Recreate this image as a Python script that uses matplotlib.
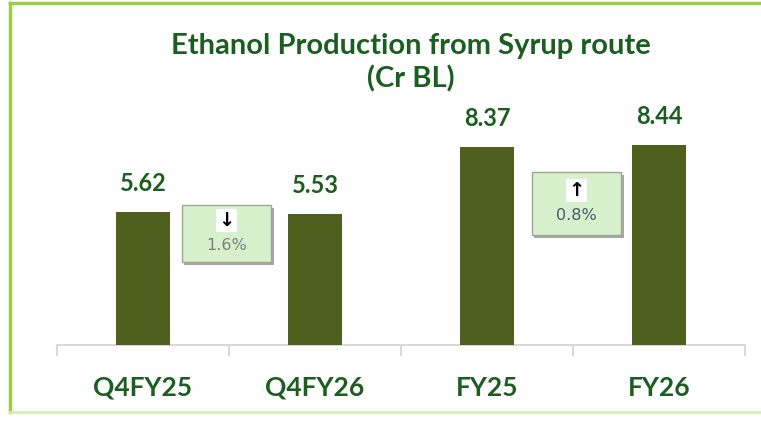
import matplotlib.pyplot as plt
from matplotlib.patches import Rectangle
from matplotlib.lines import Line2D

# ===== 데이터 =====
categories = ["Q4FY25", "Q4FY26", "FY25", "FY26"]
values = [5.62, 5.53, 8.37, 8.44]
changes = ["1.6%", "0.8%"]
arrows = ["↓", "↑"]

title = "Ethanol Production from Syrup route\n(Cr BL)"

bar_col = "#4f5f1d"
txt_green = "#1b5e20"
frame_col = "#9ccc48"

W, H = 761, 422
fig = plt.figure(figsize=(W/100, H/100), dpi=100)

# 바깥 테두리 (왼쪽/위/아래)
fig.add_artist(Line2D([10/W, 10/W], [1-3/H, 1-412/H], color=frame_col, lw=2.5, transform=fig.transFigure))
fig.add_artist(Line2D([10/W, 1], [1-3/H, 1-3/H], color=frame_col, lw=2.5, transform=fig.transFigure))
fig.add_artist(Line2D([10/W, 1], [1-412/H, 1-412/H], color="#dbe8b8", lw=2, transform=fig.transFigure))

ax_bottom = 345
ax_top = 80
ax = fig.add_axes([57/W, 1-ax_bottom/H, 688/W, (ax_bottom-ax_top)/H])
ppu = 23.7  # 단위당 픽셀
ax.set_ylim(0, (ax_bottom-ax_top)/ppu)
ax.set_xlim(-0.5, len(categories)-0.5)

x = list(range(len(categories)))
ax.bar(x, values, width=0.314, color=bar_col, zorder=3)
for xi, v in zip(x, values):
    ax.text(xi, v + 0.7, f"{v:.2f}", ha="center", va="bottom", fontsize=17,
            fontweight="bold", color=txt_green, family="Lato")

for s in ["top", "right", "left"]:
    ax.spines[s].set_visible(False)
ax.spines["bottom"].set_color("#d9d9d9")
ax.spines["bottom"].set_linewidth(1.5)
ax.set_yticks([])
ax.set_xticks([i - 0.5 for i in range(len(categories)+1)])
ax.set_xticklabels([])
ax.tick_params(axis="x", length=8, width=1.5, color="#d9d9d9")
for xi, c in zip(x, categories):
    ax.text(xi, -1.8, c, ha="center", va="center", fontsize=19, fontweight="bold",
            color=txt_green, family="Lato", transform=ax.transData, clip_on=False)

# 변화율 박스
boxes = [(0.485, 3.50, 5.91), (2.52, 4.64, 7.30)]
pct_cols = ["#808080", "#4a5a6a"]
for (cx, y0, y1), ch, ar, pc in zip(boxes, changes, arrows, pct_cols):
    bw = 0.52
    sh = Rectangle((cx - bw/2 + 0.015, y0 - 0.12), bw, y1 - y0, facecolor="#a6a6a6",
                   edgecolor="none", zorder=4)
    ax.add_patch(sh)
    r = Rectangle((cx - bw/2, y0), bw, y1 - y0, facecolor="#d8f1cd",
                  edgecolor="#9aa88f", lw=1, zorder=5)
    ax.add_patch(r)
    ym = (y0 + y1) / 2
    ax.text(cx, ym + 0.55, ar, ha="center", va="center", fontsize=14, fontweight="bold",
            color="black", zorder=6, family="DejaVu Sans",
            bbox=dict(boxstyle="square,pad=0.1", facecolor="white", edgecolor="none"))
    ax.text(cx, ym - 0.5, ch, ha="center", va="center", fontsize=11.5,
            color=pc, zorder=6, family="DejaVu Sans")

fig.text(411/W, 1-63/H, title, ha="center", va="center", fontsize=21, fontweight="bold",
         color=txt_green, family="Lato", linespacing=1.3)

fig.savefig("out.png", dpi=100)
plt.close(fig)
